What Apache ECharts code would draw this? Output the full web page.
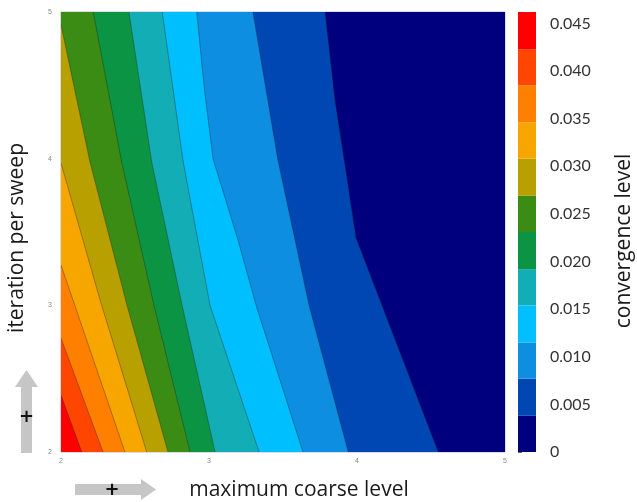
<!DOCTYPE html>
<html>
<head>
<meta charset="utf-8">
<script src="https://cdn.jsdelivr.net/npm/echarts@6/dist/echarts.min.js"></script>
<style>
  html, body { margin: 0; padding: 0; background: #fff; }
  #main { width: 637px; height: 502px; }
</style>
</head>
<body>
<div id="main"></div>
<script>
// contour levels (band edges)
const levels = [0, 0.0038, 0.0077, 0.0115, 0.0154, 0.0192, 0.0231, 0.0269, 0.0308, 0.0346, 0.0385, 0.0423, 0.0462];
const bandColors = ['#00007f', '#0047b3', '#0d8ee0', '#00bfff', '#13adb5', '#0b9444',
  '#3a8c14', '#b8a000', '#f7a600', '#ff8000', '#ff4600', '#ff0000'];
const colorbarTicks = [0, 0.005, 0.01, 0.015, 0.02, 0.025, 0.03, 0.035, 0.04, 0.045];
const axisTicks = [2, 3, 4, 5];

// contour lines [maximum coarse level, iteration per sweep], lowest level first
const contour1 = [[3.784, 5], [3.851, 4.4], [3.912, 4.0], [3.993, 3.46], [4.549, 2]];
const contour2 = [[3.297, 5], [3.466, 3.99], [3.676, 3.0], [3.941, 2]];
const contour3 = [[2.917, 5], [2.966, 4.5], [3.027, 4.0], [3.196, 3.445], [3.318, 3.0], [3.635, 2]];
const contour4 = [[2.684, 5], [2.826, 3.977], [3.007, 3.0], [3.338, 2]];
const contour5 = [[2.459, 5], [2.613, 3.977], [2.818, 3.0], [3.041, 2]];
const contour6 = [[2.218, 5], [2.41, 3.977], [2.628, 3.0], [2.872, 2]];
const contour7 = [[2.0, 4.913], [2.196, 3.977], [2.446, 3.0], [2.723, 2]];
const contour8 = [[2.0, 3.97], [2.264, 3.036], [2.579, 2]];
const contour9 = [[2.0, 3.275], [2.432, 2]];
const contour10 = [[2.0, 2.776], [2.284, 2]];
const contour11 = [[2.0, 2.387], [2.14, 2]];
const contourLines = [contour1, contour2, contour3, contour4, contour5, contour6,
  contour7, contour8, contour9, contour10, contour11];

let chart = echarts.init(document.getElementById('main'));

// band k = region above contour k (filled towards the top-left / bottom-left corner)
function renderBand(params, api) {
  let k = api.value(0);
  let pts;
  if (k === 0) {
    pts = [[2, 2], [5, 2], [5, 5], [2, 5]];
  } else {
    let line = contourLines[k - 1];
    pts = line.slice();
    pts.push([2, 2]);
    if (line[0][1] === 5) pts.push([2, 5]);
  }
  let children = [{
    type: 'polygon',
    shape: { points: pts.map(p => api.coord(p)) },
    style: { fill: bandColors[k] }
  }];
  if (k > 0) {
    children.push({
      type: 'polyline',
      shape: { points: contourLines[k - 1].map(p => api.coord(p)) },
      style: { stroke: 'rgba(30,30,30,0.45)', lineWidth: 0.8, fill: null }
    });
  }
  return { type: 'group', children: children };
}

function renderColorbar(params, api) {
  let k = api.value(0);
  let p0 = api.coord([0, levels[k]]);
  let p1 = api.coord([1, levels[k + 1]]);
  return {
    type: 'rect',
    shape: { x: p0[0], y: p1[1], width: p1[0] - p0[0], height: p0[1] - p1[1] },
    style: { fill: bandColors[k] }
  };
}

let bandData = bandColors.map((c, i) => [i]);
let titleFont = '21px "Open Sans"';

let option = {
  animation: false,
  grid: [
    { left: 61, top: 12, right: 132, bottom: 50, show: true, borderColor: '#b8b8cc', borderWidth: 1, backgroundColor: 'transparent' },
    { left: 518, top: 12, width: 18, bottom: 50 }
  ],
  xAxis: [
    {
      type: 'value', gridIndex: 0, min: 2, max: 5, interval: 1,
      axisLine: { show: false }, axisTick: { show: false }, splitLine: { show: false },
      axisLabel: { fontSize: 7, color: '#888', margin: 6, customValues: axisTicks }
    },
    { type: 'value', gridIndex: 1, min: 0, max: 1, show: false }
  ],
  yAxis: [
    {
      type: 'value', gridIndex: 0, min: 2, max: 5, interval: 1,
      axisLine: { show: false }, axisTick: { show: false }, splitLine: { show: false },
      axisLabel: { fontSize: 7, color: '#888', margin: 9, customValues: axisTicks }
    },
    {
      type: 'value', gridIndex: 1, position: 'right', min: 0, max: levels[levels.length - 1],
      axisLine: { show: false }, splitLine: { show: false },
      axisTick: { show: true, length: 4, lineStyle: { color: '#666' }, customValues: colorbarTicks },
      axisLabel: {
        customValues: colorbarTicks, margin: 14, color: '#333', fontSize: 16, fontFamily: 'Lato',
        formatter: v => v === 0 ? '0' : v.toFixed(3)
      }
    }
  ],
  series: [
    {
      type: 'custom', xAxisIndex: 0, yAxisIndex: 0, clip: true, silent: true,
      renderItem: renderBand, data: bandData
    },
    {
      type: 'custom', xAxisIndex: 1, yAxisIndex: 1, silent: true,
      renderItem: renderColorbar, data: bandData
    }
  ],
  graphic: [
    { type: 'text', x: 299, y: 490, style: { text: 'maximum coarse level', font: titleFont, fill: '#1a1a1a', align: 'center', verticalAlign: 'middle' } },
    { type: 'text', x: 17, y: 238, rotation: Math.PI / 2, style: { text: 'iteration per sweep', font: titleFont, fill: '#1a1a1a', align: 'center', verticalAlign: 'middle' } },
    { type: 'text', x: 624, y: 241, rotation: Math.PI / 2, style: { text: 'convergence level', font: titleFont, fill: '#1a1a1a', align: 'center', verticalAlign: 'middle' } },
    // arrows
    { type: 'polygon', shape: { points: [[75, 484], [141, 484], [141, 479], [156, 489.5], [141, 500], [141, 495], [75, 495]] }, style: { fill: '#c6c6c6' } },
    { type: 'text', x: 112, y: 490, style: { text: '+', font: 'bold 18px "DejaVu Sans"', fill: '#111', align: 'center', verticalAlign: 'middle' } },
    { type: 'polygon', shape: { points: [[21, 453], [21, 387], [15, 387], [26.5, 370], [38, 387], [32, 387], [32, 453]] }, style: { fill: '#c6c6c6' } },
    { type: 'text', x: 26.5, y: 417, style: { text: '+', font: 'bold 18px "DejaVu Sans"', fill: '#111', align: 'center', verticalAlign: 'middle' } }
  ]
};

chart.setOption(option);
</script>
</body>
</html>
